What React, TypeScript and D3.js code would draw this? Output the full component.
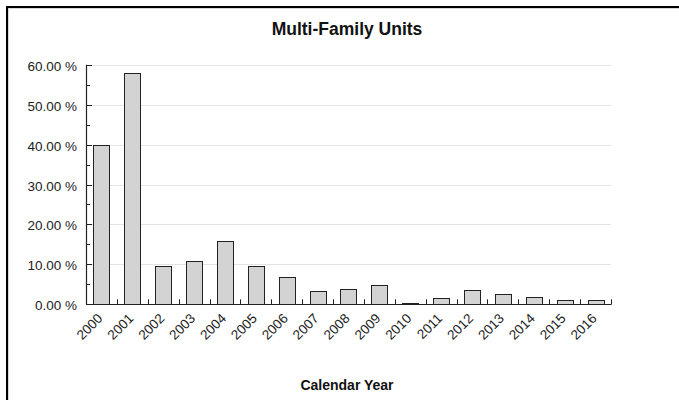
import React from "react";
import * as d3 from "d3";

const years = ["2000","2001","2002","2003","2004","2005","2006","2007","2008","2009","2010","2011","2012","2013","2014","2015","2016"];
const values = [40.0, 58.0, 9.5, 10.8, 15.8, 9.6, 6.8, 3.4, 3.9, 4.9, 0.45, 1.6, 3.6, 2.5, 1.9, 1.0, 1.0];
const yTicks = [0, 10, 20, 30, 40, 50, 60];
const yMinor = [5, 15, 25, 35, 45, 55];
const title = "Multi-Family Units";
const xTitle = "Calendar Year";

export default function App() {
  const W = 679, H = 400;
  const left = 86, right = 611, top = 64.7, bottom = 304.3;
  const x = d3.scaleBand<string>().domain(years).range([left, right]).paddingInner(0.48).paddingOuter(0.24);
  const y = d3.scaleLinear().domain([0, 60]).range([bottom, top]);
  const step = x.step();
  const font = "'Liberation Sans', Arial, sans-serif";
  return (
    <svg width={W} height={H} style={{ position: "absolute", left: 0, top: 0 }} fontFamily={font}>
      <rect x={0} y={0} width={W} height={H} fill="#fff" />
      <rect x={7} y={7} width={W + 20} height={H + 20} fill="none" stroke="#000" strokeWidth={2} />
      <rect x={8.5} y={8.5} width={W + 20} height={H + 20} fill="none" stroke="#d8d8d8" strokeWidth={1} />
      <text x={347} y={35} textAnchor="middle" fontSize={17.5} fontWeight="bold" fill="#111">{title}</text>
      {yTicks.filter(t => t > 0).map(t => (
        <line key={"g" + t} x1={left} x2={right} y1={Math.round(y(t)) + 0.5} y2={Math.round(y(t)) + 0.5} stroke="#e3e3e3" strokeWidth={1} />
      ))}
      {years.map((yr, i) => {
        const bx = x(yr)!;
        return (
          <rect key={yr} x={Math.round(bx) + 0.5} y={Math.round(y(values[i])) + 0.5} width={Math.round(x.bandwidth())} height={Math.round(bottom) - Math.round(y(values[i]))} fill="#d3d3d3" stroke="#222" strokeWidth={1} />
        );
      })}
      <line x1={left + 0.5} x2={left + 0.5} y1={top} y2={bottom + 0.5} stroke="#222" strokeWidth={1.2} />
      <line x1={left} x2={right + 0.5} y1={Math.round(bottom) + 0.5} y2={Math.round(bottom) + 0.5} stroke="#222" strokeWidth={1.2} />
      {yTicks.map(t => (
        <g key={"t" + t}>
          <line x1={left} x2={left + 6} y1={Math.round(y(t)) + 0.5} y2={Math.round(y(t)) + 0.5} stroke="#222" />
          <text x={77} y={y(t) + 6} textAnchor="end" fontSize={13.5} fill="#222">{t.toFixed(2) + " %"}</text>
        </g>
      ))}
      {yMinor.map(t => (
        <line key={"m" + t} x1={left} x2={left + 4} y1={Math.round(y(t)) + 0.5} y2={Math.round(y(t)) + 0.5} stroke="#222" />
      ))}
      {years.map((yr, i) => {
        const tx = Math.round(left + step * (i + 1)) + 0.5;
        return <line key={"xt" + yr} x1={tx} x2={tx} y1={bottom - 5} y2={bottom} stroke="#222" />;
      })}
      {years.map(yr => {
        const cx = x(yr)! + x.bandwidth() / 2 + 2;
        const ty = bottom + 15;
        return (
          <text key={"l" + yr} textAnchor="end" fontSize={13.5} fill="#222" transform={`translate(${cx},${ty}) rotate(-45)`}>{yr}</text>
        );
      })}
      <text x={347} y={390} textAnchor="middle" fontSize={14} fontWeight="bold" fill="#111">{xTitle}</text>
    </svg>
  );
}
